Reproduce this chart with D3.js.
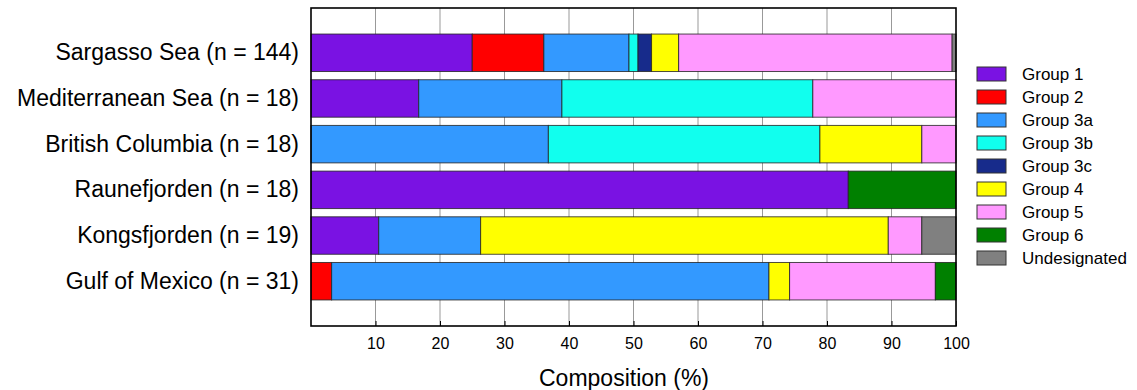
<!DOCTYPE html>
<html>
<head>
<meta charset="utf-8">
<script src="https://cdn.jsdelivr.net/npm/d3@7"></script>
<style>
  body { margin: 0; background: #fff; }
  text { font-family: "Liberation Sans", Arial, Helvetica, sans-serif; fill: #000; }
</style>
</head>
<body>
<script>
var sites = ['Sargasso Sea (n = 144)', 'Mediterranean Sea (n = 18)', 'British Columbia (n = 18)',
             'Raunefjorden (n = 18)', 'Kongsfjorden (n = 19)', 'Gulf of Mexico (n = 31)'];
var groups = ['Group 1', 'Group 2', 'Group 3a', 'Group 3b', 'Group 3c', 'Group 4', 'Group 5', 'Group 6', 'Undesignated'];
var colors = ['#7a12e3', '#ff0000', '#3399ff', '#11ffee', '#172b8b', '#ffff00', '#ff99ff', '#008000', '#808080'];

// percent per site, same order as sites
var group1 = [25.0, 16.7, 0, 83.3, 10.5, 0];
var group2 = [11.1, 0, 0, 0, 0, 3.2];
var group3a = [13.2, 22.2, 36.8, 0, 15.8, 67.8];
var group3b = [1.4, 38.9, 42.1, 0, 0, 0];
var group3c = [2.1, 0, 0, 0, 0, 0];
var group4 = [4.2, 0, 15.8, 0, 63.2, 3.2];
var group5 = [42.4, 22.2, 5.3, 0, 5.2, 22.6];
var group6 = [0, 0, 0, 16.7, 0, 3.2];
var undesignated = [0.6, 0, 0, 0, 5.3, 0];

var xTicks = [10, 20, 30, 40, 50, 60, 70, 80, 90, 100];

var series = [group1, group2, group3a, group3b, group3c, group4, group5, group6, undesignated];
var rows = sites.map(function(s, i) {
    var r = { site: s };
    groups.forEach(function(g, j) { r[g] = series[j][i]; });
    return r;
});

var width = 1137, height = 390;
var plotLeft = 311, plotRight = 956, plotTop = 8, plotBottom = 326;

var svg = d3.select('body').append('svg').attr('width', width).attr('height', height);

var x = d3.scaleLinear().domain([0, 100]).range([plotLeft, plotRight]);
var y = d3.scaleBand().domain(sites).range([plotTop, plotBottom]).paddingInner(0.18).paddingOuter(0.57);
var color = d3.scaleOrdinal().domain(groups).range(colors);

/*GRIDLINES*/
svg.append('g').selectAll('line')
    .data(xTicks.slice(0, -1))
    .enter().append('line')
        .attr('x1', function(d) { return x(d); })
        .attr('x2', function(d) { return x(d); })
        .attr('y1', plotTop)
        .attr('y2', plotBottom)
        .attr('stroke', '#999')
        .attr('stroke-width', 1);

/*BARS*/
var stacked = d3.stack().keys(groups)(rows);
svg.append('g').selectAll('g')
    .data(stacked)
    .enter().append('g')
        .attr('fill', function(d) { return color(d.key); })
    .selectAll('rect')
    .data(function(d) { return d.filter(function(p) { return p[1] - p[0] > 0; }); })
    .enter().append('rect')
        .attr('x', function(d) { return x(d[0]); })
        .attr('width', function(d) { return x(d[1]) - x(d[0]); })
        .attr('y', function(d) { return y(d.data.site); })
        .attr('height', y.bandwidth())
        .attr('stroke', '#222')
        .attr('stroke-opacity', 0.8)
        .attr('stroke-width', 1);

/*AXES*/
var xAxis = svg.append('g')
    .attr('transform', 'translate(0,' + plotBottom + ')')
    .call(d3.axisBottom(x).tickValues(xTicks).tickSize(-5).tickPadding(12));
xAxis.select('.domain').remove();
xAxis.selectAll('text').attr('font-size', 16).attr('fill', '#000');
xAxis.selectAll('line').attr('stroke', '#000');

var yAxis = svg.append('g')
    .attr('transform', 'translate(' + plotLeft + ',0)')
    .call(d3.axisLeft(y).tickSize(0).tickPadding(12));
yAxis.select('.domain').remove();
yAxis.selectAll('text').attr('font-size', 23).attr('fill', '#000');

/*FRAME*/
svg.append('rect')
    .attr('x', plotLeft).attr('y', plotTop)
    .attr('width', plotRight - plotLeft).attr('height', plotBottom - plotTop)
    .attr('fill', 'none').attr('stroke', '#000').attr('stroke-width', 1.6);

svg.append('text')
    .attr('x', 624).attr('y', 386)
    .attr('text-anchor', 'middle')
    .attr('font-size', 23)
    .text('Composition (%)');

/*LEGEND*/
var legend = svg.append('g').selectAll('g')
    .data(groups)
    .enter().append('g')
        .attr('transform', function(d, i) { return 'translate(977,' + (67 + i * 23) + ')'; });
legend.append('rect')
    .attr('width', 29).attr('height', 14)
    .attr('fill', function(d) { return color(d); })
    .attr('stroke', '#333').attr('stroke-width', 1);
legend.append('text')
    .attr('x', 45).attr('y', 7)
    .attr('dominant-baseline', 'central')
    .attr('font-size', 17)
    .text(function(d) { return d; });
</script>
</body>
</html>
